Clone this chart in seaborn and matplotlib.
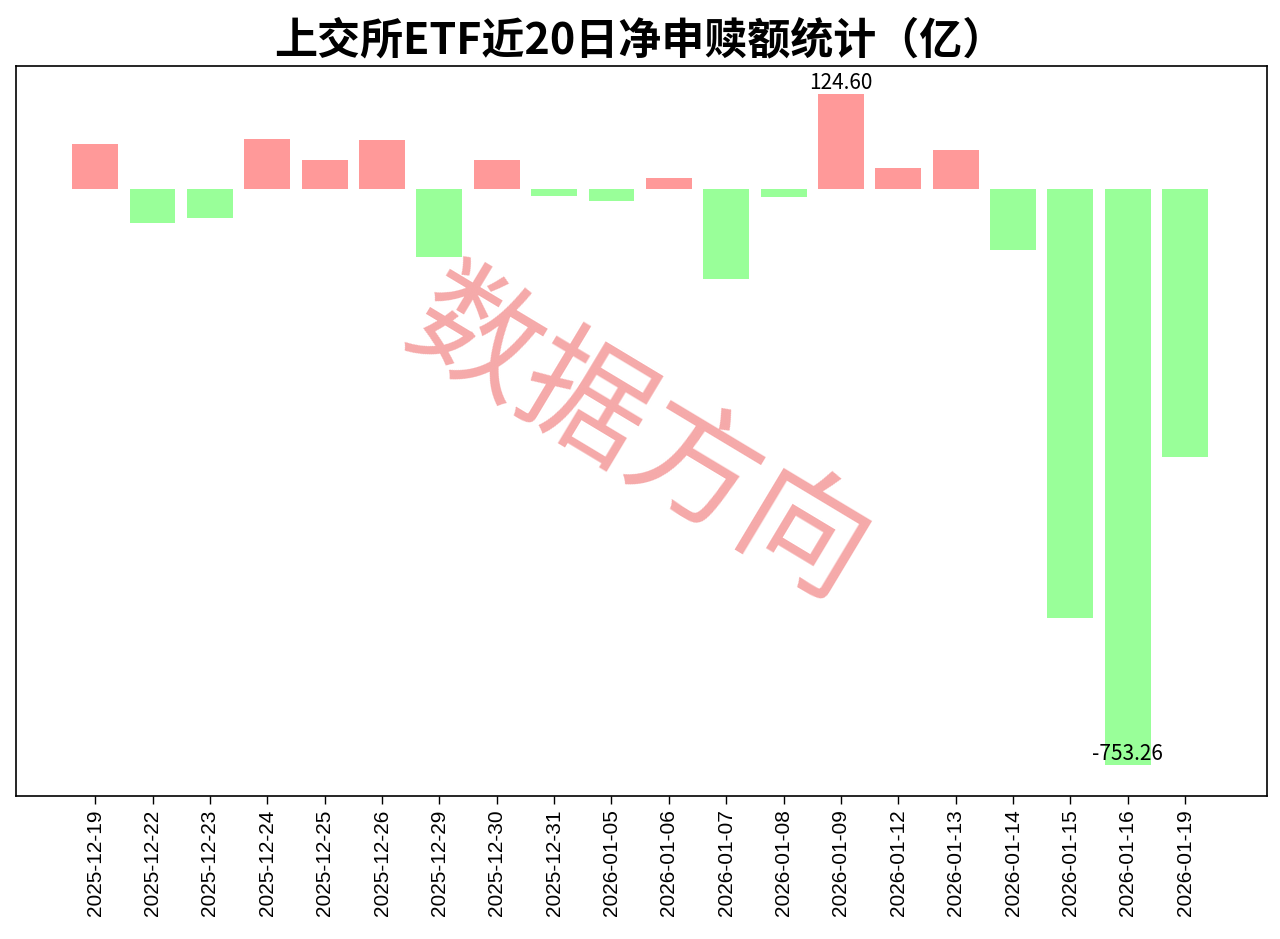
import pandas as pd
import matplotlib.pyplot as plt
import seaborn as sns

# 日期与净申赎额（亿）
dates = ['2025-12-19', '2025-12-22', '2025-12-23', '2025-12-24', '2025-12-25',
         '2025-12-26', '2025-12-29', '2025-12-30', '2025-12-31', '2026-01-05',
         '2026-01-06', '2026-01-07', '2026-01-08', '2026-01-09', '2026-01-12',
         '2026-01-13', '2026-01-14', '2026-01-15', '2026-01-16', '2026-01-19']
values = [59.5, -44.7, -37.3, 65.7, 37.7,
          64.7, -88.7, 38.6, -8.5, -15.9,
          15.0, -118.0, -10.7, 124.60, 27.7,
          50.8, -80.0, -561.4, -753.26, -349.9]

df = pd.DataFrame({'日期': dates, '净申赎': values})
df['方向'] = ['流入' if v >= 0 else '流出' for v in values]

sns.set_style('white')
plt.rcParams['font.family'] = ['Noto Sans CJK SC', 'DejaVu Sans']
plt.rcParams['axes.unicode_minus'] = False
plt.rcParams['text.color'] = 'black'
plt.rcParams['xtick.color'] = 'black'

fig = plt.figure(figsize=(12.8, 9.39), dpi=100)
ax = fig.add_axes([0.0125, 0.152, 0.9775, 0.7777])

sns.barplot(data=df, x='日期', y='净申赎', hue='方向',
            palette={'流入': '#ff9999', '流出': '#99ff99'}, saturation=1,
            dodge=False, legend=False, width=0.8, linewidth=0, ax=ax)

# 只标注最大值和最小值
i_max = df['净申赎'].idxmax()
i_min = df['净申赎'].idxmin()
for i in [i_max, i_min]:
    ax.text(i, df.loc[i, '净申赎'], f"{df.loc[i, '净申赎']:.2f}",
            ha='center', va='bottom', fontsize=15, color='black')

ax.set_xlim(-1.38, 20.43)
ax.set_ylim(-794, 161)
ax.set_yticks([])
ax.set_xlabel('')
ax.set_ylabel('')
ax.tick_params(axis='x', bottom=True, length=6, width=1, color='black')
plt.setp(ax.get_xticklabels(), rotation=90, fontsize=15, color='black',
         family=['Liberation Sans', 'DejaVu Sans'])
for s in ax.spines.values():
    s.set_visible(True)
    s.set_color('black')
    s.set_linewidth(1.2)

fig.text(0.5, 0.957, '上交所ETF近20日净申赎额统计（亿）', ha='center', va='center',
         fontsize=31, fontweight='bold', color='black')

# 水印
fig.text(0.498, 0.532, '数据方向', ha='center', va='center', fontsize=92,
         rotation=-31, color='#f4a0a0', alpha=0.9)

fig.savefig('out.png', dpi=100)
